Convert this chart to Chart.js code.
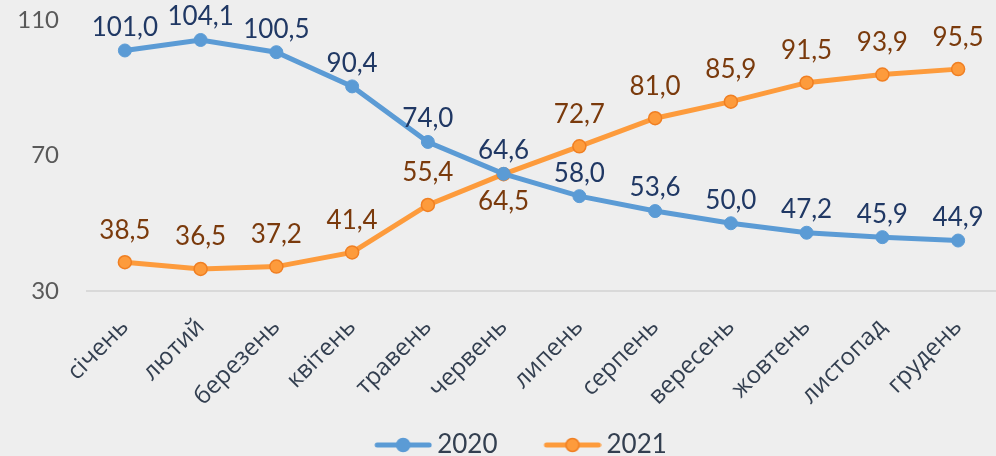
<!DOCTYPE html>
<html>
<head>
<meta charset="utf-8">
<script src="https://cdn.jsdelivr.net/npm/chart.js@4.4.1/dist/chart.umd.min.js"></script>
<style>
  html, body { margin: 0; padding: 0; background: #eeeeee; }
  #wrap { width: 996px; height: 456px; }
</style>
</head>
<body>
<div id="wrap"><canvas id="chart" width="996" height="456"></canvas></div>
<script>
// Chart data
const months = ['січень', 'лютий', 'березень', 'квітень', 'травень', 'червень',
  'липень', 'серпень', 'вересень', 'жовтень', 'листопад', 'грудень'];
const values2020 = [101.0, 104.1, 100.5, 90.4, 74.0, 64.6, 58.0, 53.6, 50.0, 47.2, 45.9, 44.9];
const values2021 = [38.5, 36.5, 37.2, 41.4, 55.4, 64.5, 72.7, 81.0, 85.9, 91.5, 93.9, 95.5];
const yTicks = [30, 70, 110];

const BLUE = '#5b9bd5';
const ORANGE = '#fd9b3c';

// Legend marker: blank lead-in, then a short line with a dot in the middle.
// The blank part stands in for the gap between the two legend entries.
function legendMarker(color, border) {
  const c = document.createElement('canvas');
  c.width = 111; c.height = 16;
  const g = c.getContext('2d');
  g.strokeStyle = color;
  g.lineWidth = 5;
  g.lineCap = 'round';
  g.beginPath(); g.moveTo(56, 8); g.lineTo(108, 8); g.stroke();
  g.fillStyle = color;
  g.strokeStyle = border;
  g.lineWidth = 1.5;
  g.beginPath(); g.arc(82, 8, 6.5, 0, Math.PI * 2); g.fill(); g.stroke();
  return c;
}

// Value labels drawn above (or below) each point
const valueLabels = {
  id: 'valueLabels',
  afterDatasetsDraw(chart) {
    const ctx = chart.ctx;
    ctx.save();
    ctx.font = '26px Lato';
    ctx.textAlign = 'center';
    ctx.textBaseline = 'middle';
    chart.data.datasets.forEach((ds, i) => {
      const meta = chart.getDatasetMeta(i);
      ctx.fillStyle = ds.labelColor;
      meta.data.forEach((pt, j) => {
        const below = ds.labelBelow.includes(j);
        const dy = below ? 27 : -ds.labelGap;
        const text = ds.data[j].toFixed(1).replace('.', ',');
        ctx.fillText(text, pt.x, pt.y + dy);
      });
    });
    ctx.restore();
  }
};

new Chart(document.getElementById('chart'), {
  type: 'line',
  data: {
    labels: months,
    datasets: [{
      label: '2020',
      data: values2020,
      borderColor: BLUE,
      backgroundColor: BLUE,
      pointBackgroundColor: BLUE,
      pointBorderColor: BLUE,
      borderWidth: 5,
      pointRadius: 6.5,
      pointBorderWidth: 1,
      labelColor: '#203864',
      labelGap: 23,
      labelBelow: [],
      legendStyle: legendMarker(BLUE, BLUE)
    }, {
      label: '2021',
      data: values2021,
      borderColor: ORANGE,
      backgroundColor: ORANGE,
      pointBackgroundColor: ORANGE,
      pointBorderColor: '#f07f22',
      borderWidth: 5,
      pointRadius: 6.5,
      pointBorderWidth: 1.5,
      labelColor: '#7a3a0c',
      labelGap: 32,
      labelBelow: [5],
      legendStyle: legendMarker(ORANGE, '#f07f22')
    }]
  },
  options: {
    responsive: false,
    animation: false,
    layout: { autoPadding: false, padding: { top: 20, right: 0, left: 0, bottom: -12 } },
    scales: {
      x: {
        offset: true,
        grid: { display: false, drawTicks: false },
        border: { display: true, color: '#d9d9d9', width: 2 },
        ticks: {
          maxRotation: 45,
          minRotation: 45,
          padding: 22,
          color: '#333f50',
          font: { family: 'Open Sans', size: 24 }
        },
        afterFit(scale) {
          scale.height = 140;
          scale.paddingLeft = 0;
          scale.paddingRight = 0;
        }
      },
      y: {
        min: 30,
        max: 110,
        afterBuildTicks(scale) { scale.ticks = yTicks.map(v => ({ value: v })); },
        grid: { display: false, drawTicks: false },
        border: { display: false },
        ticks: {
          padding: 28,
          color: '#595959',
          font: { family: 'Lato', size: 24 }
        },
        afterFit(scale) {
          scale.width = 87;
          scale.paddingTop = 0;
          scale.paddingBottom = 0;
        }
      }
    },
    plugins: {
      tooltip: { enabled: false },
      legend: {
        position: 'bottom',
        labels: {
          usePointStyle: true,
          pointStyleWidth: 95,
          padding: 1,
          color: '#333f50',
          font: { family: 'Lato', size: 26 },
          generateLabels(chart) {
            return chart.data.datasets.map((ds, i) => ({
              text: ds.label,
              pointStyle: ds.legendStyle,
              fontColor: '#333f50',
              fillStyle: ds.borderColor,
              strokeStyle: ds.borderColor,
              lineWidth: 0,
              hidden: false,
              datasetIndex: i
            }));
          }
        }
      }
    }
  },
  plugins: [valueLabels]
});
</script>
</body>
</html>
